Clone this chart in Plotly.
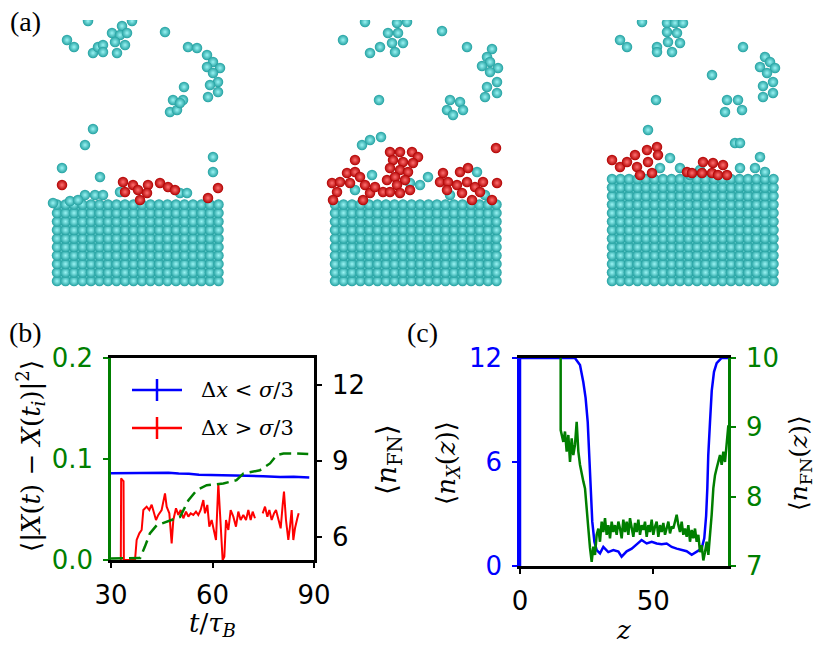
import plotly.graph_objects as go

W, H = 831, 653

# ---------------- panel (b): MSD and <n_FN> vs t ----------------
t_blue = [30.0, 35.0, 40.0, 44.0, 47.0, 50.0, 53.0, 56.0, 60.0, 65.0, 70.0, 75.0, 80.0, 84.0, 88.6]
msd_blue = [0.0858, 0.0858, 0.0862, 0.0860, 0.0864, 0.0856, 0.0855, 0.0845, 0.0840, 0.0838, 0.0835, 0.0830,
            0.0822, 0.0825, 0.0818]

t_red = [32.9, 33.0, 33.4, 33.7, 33.8, 37.1, 37.58, 38.37, 39.06, 39.56, 40.54, 41.33, 42.02, 42.51, 43.30,
         43.99, 44.97, 45.96, 46.45, 47.24, 47.93, 48.42, 49.21, 49.90, 50.59, 51.38, 52.17, 52.86, 53.55,
         54.33, 55.12, 55.81, 56.50, 57.29, 57.78, 58.47, 59.06, 59.75, 60.44, 61.03, 61.72, 62.41, 63.00,
         63.50, 63.99, 64.68, 65.37, 66.16, 66.94, 67.63, 68.32, 69.11, 69.90, 70.59, 71.28, 71.87, 72.56,
         None, 74.83, 75.52, 76.21, 76.80, 77.49, 78.18, 78.77, 79.46, 80.15, 80.74, 81.13, 81.72, 82.41,
         82.90, 83.40, 83.89, 84.38, 85.07, 85.47]
msd_red = [0.0, 0.081, 0.079, 0.078, 0.0, 0.0, 0.0198, 0.0264, 0.0297, 0.0495, 0.0528, 0.0495, 0.0548, 0.0479,
           0.0396, 0.0446, 0.0495, 0.066, 0.0528, 0.0462, 0.0165, 0.0396, 0.0512, 0.0446, 0.0495, 0.0413,
           0.0479, 0.0429, 0.0462, 0.0446, 0.0479, 0.0446, 0.0495, 0.0594, 0.0462, 0.0545, 0.033, 0.0396,
           0.0297, 0.0198, 0.0759, 0.0363, 0.0, 0.0033, 0.0396, 0.0297, 0.0495, 0.0429, 0.033, 0.0479, 0.0396,
           0.0446, 0.0396, 0.0495, 0.0396, 0.0479, 0.0413,
           None, 0.0462, 0.0528, 0.0429, 0.0495, 0.0396, 0.0462, 0.0495, 0.0396, 0.0314, 0.0545, 0.0677,
           0.0396, 0.0198, 0.033, 0.0495, 0.0198, 0.0314, 0.0413, 0.0462]

t_fn = [30.0, 36.5, 38.6, 40.0, 41.5, 43.5, 46.45, 50.4, 52.9, 55.3, 58.3, 63.2, 67.1, 69.1, 74.0, 77.0,
        79.0, 81.0, 84.9, 88.3]
n_fn = [5.16, 5.16, 5.18, 5.62, 6.15, 6.47, 6.6, 6.8, 7.46, 7.85, 8.05, 8.12, 8.25, 8.51, 8.64, 8.91,
        9.24, 9.30, 9.30, 9.28]

# ---------------- panel (c): profiles along z ----------------
z_x = [0, 0, 20.6, 22.5, 23.75, 24.6, 25.4, 25.9, 26.6, 27.1, 27.9, 28.75, 30.0, 31.25, 33.1, 35.0, 36.9,
       38.1, 40.0, 41.9, 43.75, 45.6, 47.5, 49.4, 51.25, 53.1, 55.0, 56.9, 58.75, 60.6, 62.5, 64.4, 66.25,
       68.1, 69.1, 69.8, 70.25, 70.6, 71.25, 71.9, 72.75, 73.75, 75.6, 78.0]
n_x = [0, 12, 12, 11.6, 10.6, 9.7, 8.3, 6.4, 3.9, 2.56, 1.4, 0.92, 0.73, 1.1, 0.8, 0.92, 0.83, 0.54, 0.85,
       1.0, 1.25, 1.5, 1.3, 1.4, 1.3, 1.25, 1.3, 1.1, 1.0, 0.92, 0.85, 0.65, 0.85, 1.0, 1.6, 2.9, 4.5, 6.4,
       8.3, 10.1, 11.2, 11.7, 12.0, 12.0]

z_fn = [15.25, 15.25, 16.25, 16.88, 17.5, 18.13, 18.75, 19.38, 20.0, 20.63, 21.25, 21.88, 22.5, 23.13, 23.75,
        24.38, 25.0, 25.63, 26.25, 26.88, 27.5, 28.13, 28.75, 29.38, 30.0, 30.63, 31.25, 31.88, 32.5, 33.13,
        33.75, 34.38, 35.0, 35.63, 36.25, 36.88, 37.5, 38.13, 38.75, 39.38, 40.0, 40.63, 41.25, 41.88, 42.5,
        43.13, 43.75, 44.38, 45.0, 45.63, 46.25, 46.88, 47.5, 48.13, 48.75, 49.38, 50.0, 50.63, 51.25, 51.88,
        52.5, 53.13, 53.75, 54.38, 55.0, 55.63, 56.25, 56.88, 57.5, 58.13, 58.75, 59.38, 60.0, 60.63, 61.25,
        61.88, 62.5, 63.13, 63.75, 64.38, 65.0, 65.63, 66.25, 66.88, 67.5, 68.13, 68.75, 69.38, 70.0, 70.63,
        71.25, 71.88, 72.5, 73.13, 73.75, 74.38, 75.0, 75.63, 76.25, 76.88, 77.5, 78.13]
n_fn_z = [10.3, 8.96, 8.79, 8.94, 8.65, 8.89, 8.50, 8.84, 8.60, 8.75, 9.08, 8.65, 8.46, 8.31, 8.22,
          8.12, 7.88, 7.54, 7.26, 7.06, 7.28, 7.16, 7.45, 7.54, 7.35, 7.64, 7.49, 7.69, 7.45, 7.59,
          7.40, 7.64, 7.49, 7.59, 7.45, 7.64, 7.54, 7.40, 7.67, 7.49, 7.64, 7.45, 7.69, 7.54, 7.42,
          7.62, 7.49, 7.67, 7.45, 7.59, 7.52, 7.64, 7.42, 7.59, 7.49, 7.67, 7.45, 7.57, 7.64, 7.42,
          7.59, 7.49, 7.62, 7.45, 7.57, 7.64, 7.47, 7.57, 7.54, 7.67, 7.74, 7.59, 7.49, 7.64, 7.45,
          7.54, 7.42, 7.59, 7.35, 7.52, 7.40, 7.54, 7.35, 7.45, 7.20, 7.30, 7.08, 7.20, 7.35, 7.16,
          7.42, 7.74, 8.12, 8.31, 8.41, 8.50, 8.60, 8.46, 8.65, 8.50, 8.84, 9.03]

# ---------------- panel (a): three snapshots (image pixel coords) ----------------
block_left = [57, 335, 612]
block_rows = [10, 10, 13]
block_cols = 20
block_bottom = 281
spacing = 8.5

cyan_x = [88, 132, 67, 74, 93, 98, 103, 103, 112, 122, 120, 115, 117, 125, 127, 165, 188, 197, 207, 213, 207,
          220, 213, 218, 210, 218, 208, 184, 183, 173, 170, 177, 180, 93, 85, 62, 100, 213, 213,
          85, 95, 103, 120, 180, 187, 53, 70, 78,
          365, 397, 407, 343, 370, 380, 388, 398, 392, 403, 395, 442, 467, 492, 487, 490, 482, 498, 490, 497,
          487, 497, 485, 379, 450, 460, 447, 453, 463, 362, 370, 381,
          477, 372, 428, 420, 410, 355, 450, 485,
          642, 667, 675, 683, 620, 627, 657, 657, 667, 677, 668, 680, 672, 743, 765, 770, 760, 775, 767, 773,
          763, 773, 763, 712, 656, 727, 738, 725, 742, 648, 735, 740, 760, 670,
          680, 700, 740, 755, 765, 660, 690]
cyan_y = [21, 21, 40, 47, 53, 47, 45, 52, 33, 26, 35, 42, 53, 45, 33, 32, 47, 48, 55, 62, 67,
          68, 73, 82, 85, 92, 97, 87, 100, 100, 112, 110, 103, 129, 145, 168, 177, 157, 172,
          195, 195, 195, 192, 193, 193, 203, 201, 200,
          22, 23, 22, 40, 53, 47, 33, 33, 43, 43, 52, 31, 47, 49, 57, 62, 66, 68, 72, 82,
          87, 93, 97, 100, 100, 102, 110, 115, 110, 145, 140, 137,
          172, 175, 177, 185, 183, 190, 195, 195,
          22, 23, 23, 23, 40, 47, 47, 52, 32, 33, 42, 43, 52, 47, 57, 62, 67, 68, 73, 82,
          86, 93, 97, 75, 100, 100, 100, 112, 110, 130, 143, 143, 157, 158,
          168, 170, 168, 168, 172, 168, 175]

red_x = [62, 123, 125, 133, 138, 148, 147, 140, 160, 168, 175, 218, 208,
         496, 355,
         332, 337, 340, 347, 355, 360, 350, 365, 370, 363, 333, 375, 383, 387,
         390, 400, 412, 418, 393, 403, 413, 390, 400, 408, 395, 405, 397, 390, 400, 410,
         443, 460, 468, 440, 448, 457, 467, 447, 462, 475, 483, 497, 480, 472, 492,
         612, 620, 627, 635, 637, 647, 657, 658, 648, 640, 652, 703, 713, 723, 687, 692, 702, 712, 718, 727]
red_y = [185, 182, 192, 185, 190, 185, 193, 200, 183, 187, 190, 188, 198,
         148, 160,
         183, 192, 182, 173, 172, 177, 183, 185, 193, 200, 200, 187, 192, 180,
         152, 152, 152, 157, 160, 162, 163, 168, 170, 172, 177, 180, 185, 192, 193, 190,
         173, 172, 168, 182, 182, 185, 182, 190, 193, 187, 182, 183, 192, 200, 200,
         160, 167, 162, 155, 167, 150, 147, 155, 162, 175, 173, 162, 163, 165, 172, 173, 173, 173, 175, 175]


def lattice(shift, trim):
    xs, ys = [], []
    for left, rows in zip(block_left, block_rows):
        for r in range(rows - trim):
            for c in range(block_cols - trim):
                xs.append(left + c * spacing + shift)
                ys.append(block_bottom - r * spacing - shift)
    return xs, ys


def sphere(xs, ys, edge, centre, size=10.5):
    return go.Scatter(x=xs, y=ys, mode='markers', xaxis='x3', yaxis='y5', showlegend=False,
                      hoverinfo='skip',
                      marker=dict(size=size, color=edge, line=dict(width=0),
                                  gradient=dict(type='radial', color=centre)))


def px(x):
    return x / W


def py(y):
    return 1 - y / H


BLUE = '#0000ff'
RED = '#ff0000'
GREEN = '#007f00'
MATH = 'DejaVu Serif'
TICK = dict(family='DejaVu Sans', size=26, color='black')

fig = go.Figure()

# snapshots
bx, by = lattice(spacing / 2, 1)
fig.add_trace(sphere(bx, by, '#1b6e6e', '#5ccccc'))
fx, fy = lattice(0, 0)
fig.add_trace(sphere(fx, fy, '#22a0a0', '#9af4f4'))
fig.add_trace(sphere(cyan_x, cyan_y, '#22a0a0', '#9af4f4'))
fig.add_trace(sphere(red_x, red_y, '#b00000', '#ff7070'))

# panel (b)
fig.add_trace(go.Scatter(x=t_fn, y=n_fn, mode='lines', xaxis='x', yaxis='y2', showlegend=False,
                         line=dict(color=GREEN, width=2.5, dash='12px,6px')))
fig.add_trace(go.Scatter(x=t_blue, y=msd_blue, mode='lines', xaxis='x', yaxis='y', showlegend=False,
                         line=dict(color=BLUE, width=2.5)))
fig.add_trace(go.Scatter(x=t_red, y=msd_red, mode='lines', xaxis='x', yaxis='y', showlegend=False,
                         connectgaps=False, line=dict(color=RED, width=2)))

# panel (c)
fig.add_trace(go.Scatter(x=z_x, y=n_x, mode='lines', xaxis='x2', yaxis='y3', showlegend=False,
                         line=dict(color=BLUE, width=2.5)))
fig.add_trace(go.Scatter(x=z_fn, y=n_fn_z, mode='lines', xaxis='x2', yaxis='y4', showlegend=False,
                         line=dict(color=GREEN, width=2.5)))

axis_common = dict(showgrid=False, zeroline=False, showline=True, linewidth=2.5, ticks='outside',
                   ticklen=5, tickwidth=2, tickfont=TICK, ticklabelstandoff=5, automargin=False)

fig.update_layout(
    width=W, height=H, margin=dict(l=0, r=0, t=0, b=0, autoexpand=False),
    paper_bgcolor='white', plot_bgcolor='rgba(0,0,0,0)', showlegend=False,
    xaxis=dict(domain=[px(111), px(314)], anchor='y', range=[30, 90], tickvals=[30, 60, 90],
               linecolor='black', tickcolor='black', mirror=True, **axis_common),
    yaxis=dict(domain=[py(560), py(358)], anchor='x', range=[0, 0.2], tickvals=[0, 0.1, 0.2],
               ticktext=['0.0', '0.1', '0.2'], linecolor=GREEN, tickcolor=GREEN,
               **{**axis_common, 'tickfont': dict(TICK, color=GREEN)}),
    yaxis2=dict(overlaying='y', anchor='x', side='right', range=[5.1, 13.07], tickvals=[6, 9, 12],
                linecolor='black', tickcolor='black', **axis_common),
    xaxis2=dict(domain=[px(520), px(728)], anchor='y3', range=[0, 78], tickvals=[0, 50],
                linecolor='black', tickcolor='black', mirror=True, **axis_common),
    yaxis3=dict(domain=[py(566), py(358)], anchor='x2', range=[0, 12], tickvals=[0, 6, 12],
                linecolor=BLUE, tickcolor=BLUE, **{**axis_common, 'tickfont': dict(TICK, color=BLUE)}),
    yaxis4=dict(overlaying='y3', anchor='x2', side='right', range=[7, 10], tickvals=[7, 8, 9, 10],
                linecolor=GREEN, tickcolor=GREEN, **{**axis_common, 'tickfont': dict(TICK, color=GREEN)}),
    xaxis3=dict(domain=[0, 1], anchor='y5', range=[0, W], visible=False, fixedrange=True, automargin=False),
    yaxis5=dict(domain=[py(290), py(20)], anchor='x3', range=[290, 20], visible=False, fixedrange=True,
                automargin=False),
)

# legend of panel (b), drawn by hand
for y_leg, col, label in [(390, BLUE, 'Δ<i>x</i> &lt; <i>σ</i>/3'), (428, RED, 'Δ<i>x</i> &gt; <i>σ</i>/3')]:
    fig.add_shape(type='line', xref='paper', yref='paper', x0=px(132), x1=px(182), y0=py(y_leg), y1=py(y_leg),
                  line=dict(color=col, width=2.5))
    fig.add_shape(type='line', xref='paper', yref='paper', x0=px(157), x1=px(157), y0=py(y_leg - 11),
                  y1=py(y_leg + 11), line=dict(color=col, width=2.5))
    fig.add_annotation(x=px(199), y=py(y_leg), xref='paper', yref='paper', text=label, showarrow=False,
                       xanchor='left', yanchor='middle', font=dict(family=MATH, size=21, color='black'))

labels = [
    (25, 22, '(a)', 0, dict(family='Liberation Serif', size=28)),
    (25, 332, '(b)', 0, dict(family='Liberation Serif', size=28)),
    (422, 332, '(c)', 0, dict(family='Liberation Serif', size=28)),
    (30, 456, '⟨|<i>X</i>(<i>t</i>) − <i>X</i>(<i>t</i><sub><i>i</i></sub>)|<sup>2</sup>⟩', -90,
     dict(family=MATH, size=26)),
    (388, 460, '⟨<i>n</i><sub>FN</sub>⟩', -90, dict(family=MATH, size=28)),
    (213, 624, '<i>t</i>/<i>τ</i><sub><i>B</i></sub>', 0, dict(family=MATH, size=26)),
    (447, 463, '⟨<i>n</i><sub><i>X</i></sub>(<i>z</i>)⟩', -90, dict(family=MATH, size=26)),
    (800, 463, '⟨<i>n</i><sub>FN</sub>(<i>z</i>)⟩', -90, dict(family=MATH, size=25)),
    (623, 630, '<i>z</i>', 0, dict(family=MATH, size=26)),
]
for x, y, text, ang, font in labels:
    fig.add_annotation(x=px(x), y=py(y), xref='paper', yref='paper', text=text, showarrow=False,
                       textangle=ang, xanchor='center', yanchor='middle', font=dict(font, color='black'))

# the page's default body margin would push the figure 8px off the window
fig.write_html("out.html", config={'displayModeBar': False},
               post_script="document.body.style.margin='0px';")
